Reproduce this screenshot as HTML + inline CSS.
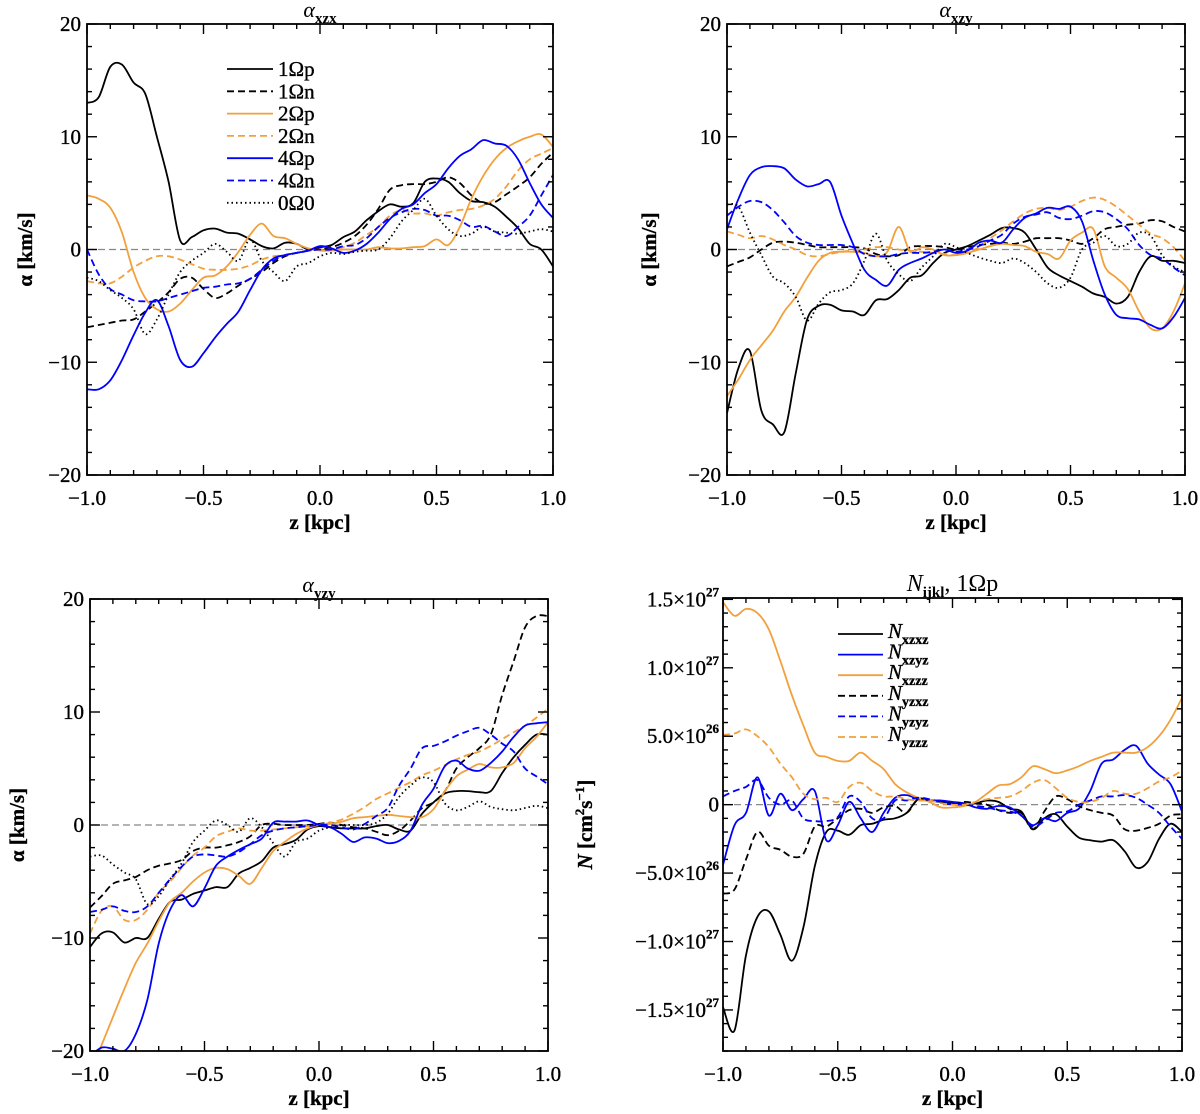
<!DOCTYPE html>
<html><head><meta charset="utf-8">
<style>
body{margin:0;background:#fff;}
svg{display:block;font-family:"Liberation Serif",serif;}
.tick{font-size:21px;fill:#000;stroke:#000;stroke-width:0.35;}
.ttl{font-size:22px;}
</style></head>
<body>
<svg id="fig" width="1200" height="1114" viewBox="0 0 1200 1114"></svg>
<script>
const zGrid=[-1,-0.95,-0.9,-0.85,-0.8,-0.75,-0.7,-0.65,-0.6,-0.55,-0.5,-0.45,-0.4,-0.35,-0.3,-0.25,-0.2,-0.15,-0.1,-0.05,0,0.05,0.1,0.15,0.2,0.25,0.3,0.35,0.4,0.45,0.5,0.55,0.6,0.65,0.7,0.75,0.8,0.85,0.9,0.95,1];
const xTicks=[-1,-0.5,0,0.5,1];
const xTickLabels=["\u22121.0","\u22120.5","0.0","0.5","1.0"];
const alphaTicks=[-20,-10,0,10,20];
const alphaTickLabels=["\u221220","\u221210","0","10","20"];
const nTicks=[-15,-10,-5,0,5,10,15];
const nTickMant=["\u22121.5","\u22121.0","\u22125.0","0","5.0","1.0","1.5"];
const nTickExp=["27","27","26","","26","27","27"];
// panel 1 alpha_xzx
const p1_1p=[13,13.5,16.2,16.4,14.8,13.8,10,6,0.8,1.1,1.7,1.85,1.5,1.4,0.9,0.3,0.1,0.6,0.5,0,0.2,0.4,1.1,1.6,2.6,3.4,4,3.8,4.1,6,6.3,6,5,4.3,4.2,3.8,2.9,1.9,0.5,0,-1.5];
const p1_1n=[-6.9,-6.7,-6.5,-6.3,-6.2,-5.5,-4.7,-3.8,-2.6,-2.5,-3.5,-4.3,-3.9,-3.2,-2.6,-2,-1.2,-0.6,-0.3,-0.1,0,0.2,0.6,1.2,2.2,3.6,5.3,5.7,5.8,5.8,6,6.4,5.9,4.8,4.1,4.2,4.9,5.6,6.4,7.6,8.6];
const p1_2p=[4.8,4.5,3.7,1.5,-2,-4.3,-5.3,-5.5,-4.8,-3.6,-2.5,-2.3,-1.5,-0.2,1.3,2.3,1.2,1,0.5,0.1,-0.1,-0.1,0,0,0,0.2,0.1,0.1,0.2,0.3,0.9,0.4,2,4.5,6.5,8,9,9.6,10,10.2,9.1];
const p1_2n=[-2.8,-3,-3,-2.4,-1.6,-1,-0.6,-0.6,-0.9,-1.3,-1.7,-1.8,-1.8,-1.7,-1.4,-0.9,-0.6,-0.5,-0.3,-0.1,0,0,0.2,0.6,1.3,2,3,3.5,3.2,3.2,3,3.3,3.5,3.6,3.9,4.5,5.6,7,8,8.5,9];
const p1_4p=[-12.4,-12.4,-11.6,-9.8,-7.6,-5.6,-4.5,-6.8,-9.8,-10.4,-9.2,-7.8,-6.6,-5.5,-3.6,-1.8,-0.8,-0.5,-0.3,-0.1,0.3,0.1,-0.3,-0.1,0.5,1.5,2.7,3.6,4,5,5.8,7.2,8.3,8.9,9.7,9.4,9.2,8,5.9,4,2.8];
const p1_4n=[0,-2.2,-3.5,-4,-4.5,-4.6,-4.6,-4.3,-4,-3.7,-3.4,-3.3,-3.1,-3,-2.6,-1.8,-1,-0.5,-0.3,-0.1,0,0,0.3,0.4,1,2,2.8,3.3,3.6,3.5,3,3,2.6,2,2.1,1.6,1.2,2,3,4.8,6.6];
const p1_00=[-2.5,-2.8,-3.6,-4.3,-5.3,-7.5,-6.2,-4,-2,-1,-0.3,0.5,-0.2,-1,0.9,-1,-2,-2.8,-1.5,-1.2,-0.6,-0.3,-0.4,-0.2,-0.1,0,1,2.5,3.5,4.5,3,1.8,1.2,1.4,2,1.6,1.5,1.4,1.6,1.8,1.6];
// panel 2 alpha_xzy
const p2_1p=[-14.5,-10.5,-9,-14.3,-15.5,-16.2,-11,-6.2,-5,-4.9,-5.4,-5.5,-5.8,-4.5,-4.4,-3.6,-2.5,-2.3,-1.2,-0.3,0,0.3,0.8,1.3,1.9,1.9,1.5,0,-1.6,-2.3,-2.8,-3.3,-3.9,-4.2,-4.8,-4.2,-2,-0.6,-1,-1,-1.2];
const p2_1n=[-1.5,-1.1,-0.7,0,0.6,0.7,0.6,0.4,0.2,0.2,0.2,0.2,0.1,-0.4,-0.6,-0.5,0.2,0.3,0.3,0.2,0,0.2,0.4,0.5,0.6,0.5,0.7,1,1,1,0.8,0.5,1,1.8,2,2.2,2.3,2.6,2.5,2,1.6];
const p2_2p=[-13,-11.5,-9.8,-8.5,-7.2,-5.5,-4.2,-2.5,-1,-0.3,-0.2,-0.2,-0.3,-0.6,-0.2,2,-0.2,0.2,0,-0.5,-0.5,-0.3,0,0.3,0.5,0.4,0.3,-0.2,-0.4,-0.8,0.8,1.5,1.8,-1.5,-2.5,-3.5,-5.5,-7,-7,-5.5,-3];
const p2_2n=[1.6,1.3,1,1.2,0.9,0.4,0,-0.5,-0.6,-0.4,-0.2,-0.1,0,0.2,0.2,0,-0.1,-0.2,-0.3,-0.4,-0.5,-0.3,0.2,1,1.7,2.5,3.2,3.6,3.7,3.5,3.8,4.3,4.6,4.4,3.8,3,2.2,1.4,1,0.2,-1];
const p2_4p=[1.8,4.5,6.6,7.3,7.4,7.2,6.2,5.6,5.8,6,3,0.5,-1.8,-2.7,-3.2,-1.8,-1.2,-0.8,-0.3,0,-0.3,-0.1,0.6,0.8,0.6,1.8,2.8,3.2,3.7,3.6,3.8,2.5,-1,-4,-5.8,-6.1,-6.2,-6.7,-7,-6,-4.3];
const p2_4n=[3,3.8,4.3,4.2,3.5,2.4,1.2,0.6,0.4,0.4,0.4,0.2,-0.4,-0.6,-0.6,-0.4,-0.3,-0.3,-0.2,0,-0.2,0,0.3,0.8,1.3,2.3,2.9,3.1,3.3,2.8,2.7,3,3.4,3.3,2.7,1.8,0.4,-0.5,-0.8,-1.6,-2.3];
const p2_00=[4,3.8,1.5,-0.5,-2.4,-3,-4.2,-6.3,-4.8,-3.8,-3.6,-3,-1,1.4,-1,-2.2,-2.8,-1.6,-0.6,0.5,0.2,-0.3,-0.7,-1,-1.2,-0.8,-1.2,-2,-3,-3.4,-2.5,0,0.6,1.2,0.3,0.5,1.5,1.2,-0.5,-1.5,-2];
// panel 3 alpha_yzy
const p3_1p=[-10.8,-9.6,-9.5,-10.4,-10,-10,-8.3,-6.8,-6.6,-6.1,-5.8,-5.5,-5.5,-4.3,-3.8,-3.2,-2,-1.7,-1.3,-0.4,-0.1,-0.2,-0.3,-0.3,-0.3,-0.1,0,-0.4,-0.5,1,2,2.8,3,3,2.9,3,4.6,6,7.1,8,8];
const p3_1n=[-7.3,-6.3,-5.2,-4.9,-4.6,-4,-3.6,-3.4,-3.1,-2.3,-2,-2,-1.8,-1.5,-1,0,0.1,0,0,0,0.1,0.2,0,-0.2,-0.3,-0.6,-0.9,-0.5,0.4,1.5,2,3,5,6,6.8,8,11.5,14.5,17.5,18.5,18.5];
const p3_2p=[-22,-19.5,-17,-14.5,-12.2,-10.5,-8.5,-6.8,-6,-5,-4.2,-3.8,-3.9,-4.5,-5.2,-3.8,-2.3,-1.5,-0.8,-0.3,0,0.1,0.3,0.6,0.7,0.8,0.9,0.8,0.7,0.7,1.4,3,4.3,4.9,5.4,5.1,5.1,5.5,6.8,7.8,9.1];
const p3_2n=[-9.6,-7.6,-7.2,-8.4,-8.4,-7.5,-6,-5,-3.8,-2.7,-2,-1,-0.6,-0.3,-0.5,-0.5,-0.4,-0.3,-0.2,-0.1,0,0.2,0.5,1,1.6,2.3,2.8,3.3,3.8,4.4,4.8,5.3,5.8,6.2,6.5,7,7.6,8.2,8.8,9.5,10.3];
const p3_4p=[-20.5,-19.7,-19.8,-20,-18.5,-15.5,-10.5,-7.5,-6.2,-7.2,-5.6,-3.6,-2.8,-2.2,-1.7,-1.2,0.2,0.3,0.3,0.4,0,-0.2,-0.8,-1.5,-1.1,-1.2,-1.6,-1.4,-0.5,1.8,3.2,5.2,5.7,5,4.8,5.5,6.5,7.8,8.8,9,9.1];
const p3_4n=[-7.7,-7.5,-7.2,-7.6,-7.7,-7.2,-6,-4.8,-3.7,-2.8,-2.6,-2.7,-2.8,-2.4,-1.7,-0.9,-0.5,-0.3,-0.2,-0.1,0,0,-0.2,-0.4,0.1,0.8,1.5,3.5,5,6.8,7,7.4,7.9,8.3,8.6,8,7.2,6.5,5,4.3,3.6];
const p3_00=[-2.8,-2.7,-3.5,-4.2,-4.8,-7,-6.3,-4.8,-3.4,-1.5,-0.5,0.4,0,-0.6,0.6,-0.2,-1.6,-2.8,-1.5,-1.2,-0.5,-0.2,0,0,0,0.2,1,2.5,3.5,4.2,3.8,1.9,1.3,1.6,2.1,1.6,1.4,1.3,1.5,1.7,1.5];
// panel 4 N_ijkl (units of 1e26 cm^2/s)
const n_xzxz=[-14.8,-16.5,-11,-8.2,-7.8,-9.5,-11.4,-9,-4.5,-2,-1.9,-2.2,-1.5,-1.4,-1.1,-1,-0.6,0.4,0.3,0.2,0.1,0,0.1,0.3,0.2,-0.3,-0.5,-1.8,-1,-0.7,-1.6,-2.4,-2.6,-2.7,-2.6,-3.4,-4.6,-4.2,-2.5,-1.4,-2];
const n_xzyz=[-4.4,-1.5,-0.6,2,-0.8,0.8,-0.4,0.4,1,-2.6,-1.5,0.2,-1,-2,-0.6,0.5,0.7,0.4,0.3,0.3,0.2,0.1,-0.2,-0.3,-0.1,-0.2,-0.8,-1.5,-1,-1.2,-0.6,-0.3,1,3,3.3,4,4.3,3,2.2,1.5,-0.5];
const n_xzzz=[14.8,13.8,14.3,14,12.8,10.5,8,5.8,3.8,3.5,3.2,3.2,3.8,3.2,2.6,1.5,0.9,0.5,0.2,-0.2,-0.2,-0.1,0.2,0.8,1.4,1.5,2,2.8,2.6,2.3,2.5,2.8,3.2,3.5,3.8,3.8,3.8,4.2,5,6.2,7.8];
const n_yzxz=[-6.5,-6.2,-4,-2,-3,-3.3,-3.8,-3.6,-1.6,-1.6,-1,-0.4,-0.3,-0.6,-0.2,-0.1,-0.6,0.4,0.3,0.2,0,0.2,0.1,0,-0.4,-0.6,-0.6,-1.8,-0.5,0.6,0.4,-0.1,-0.4,-0.6,-0.8,-1.8,-1.9,-1.7,-1.4,-0.8,-0.7];
const n_yzyz=[0.6,1,1.3,1.8,0.5,0,0.3,-1,-1.2,-1.2,-0.9,0.6,0.2,-1,-1,0.3,0.3,0.5,0.4,0.2,0,0,-0.1,-0.2,-0.4,-0.5,-0.8,-1.6,-1.2,-0.6,-0.5,0,0.3,0.6,0.6,0.7,0.5,0,-0.6,-1.6,-2.5];
const n_yzzz=[5.1,5.2,5.5,5,4.2,3,2,0.8,0.4,0.5,0.2,1.3,1.6,1,0.6,0.6,0.4,0.3,0.3,0.1,0,0,0.2,0.4,0.5,0.6,1,1.6,1.8,1.2,0.5,0.2,0.2,0.5,1,0.8,0.8,1.2,1.7,2,2.5];

const NS="http://www.w3.org/2000/svg";
const svg=document.getElementById('fig');
const ORANGE="#f2a03c", BLUE="#0000ff";
function mk(tag,attrs,parent){const e=document.createElementNS(NS,tag);for(const k in attrs)e.setAttribute(k,attrs[k]);(parent||svg).appendChild(e);return e;}
const STY={solid:"",dash:"7,4",dot:"1.5,3"};
function catmull(pts){let d="M"+pts[0][0].toFixed(1)+","+pts[0][1].toFixed(1);
 for(let i=0;i<pts.length-1;i++){const p0=pts[Math.max(0,i-1)],p1=pts[i],p2=pts[i+1],p3=pts[Math.min(pts.length-1,i+2)];
  const c1x=p1[0]+(p2[0]-p0[0])/6,c1y=p1[1]+(p2[1]-p0[1])/6,c2x=p2[0]-(p3[0]-p1[0])/6,c2y=p2[1]-(p3[1]-p1[1])/6;
  d+="C"+c1x.toFixed(1)+","+c1y.toFixed(1)+" "+c2x.toFixed(1)+","+c2y.toFixed(1)+" "+p2[0].toFixed(1)+","+p2[1].toFixed(1);}
 return d;}

function panel(cfg){
 const g=mk('g',{});
 
 
 const L=cfg.x0,R=cfg.x1,T=cfg.y0,B=cfg.y1;
 const sx=v=>L+(v+1)/2*(R-L);
 const sy=v=>B-(v-cfg.ymin)/(cfg.ymax-cfg.ymin)*(B-T);
 const cid='clip-'+cfg.name;
 const cp=mk('clipPath',{id:cid},g);mk('rect',{x:L,y:T,width:R-L,height:B-T},cp);
 const zl=mk('line',{x1:L,x2:R,y1:sy(0),y2:sy(0),stroke:'#888','stroke-width':1.2,'stroke-dasharray':'7,4'},g);
 
 
 const sg=mk('g',{'clip-path':'url(#'+cid+')'},g);
 cfg.series.forEach(s=>{
  const pts=zGrid.map((z,i)=>[sx(z),sy(s.data[i])]);
  const p=mk('path',{d:catmull(pts),fill:'none',stroke:s.color,'stroke-width':1.8,'stroke-dasharray':STY[s.style]},sg);
  
  
 });
 const fr=mk('rect',{x:L,y:T,width:R-L,height:B-T,fill:'none',stroke:'#000','stroke-width':1.8},g);
 
 
 for(let k=-10;k<=10;k++){const v=k/10,x=sx(v),len=(k%5===0)?10:5;
  mk('line',{x1:x,x2:x,y1:B,y2:B-len,stroke:'#000','stroke-width':1.4},g);
  mk('line',{x1:x,x2:x,y1:T,y2:T+len,stroke:'#000','stroke-width':1.4},g);}
 xTicks.forEach((v,i)=>{const t=mk('text',{x:sx(v),y:B+30,'text-anchor':'middle',class:'tick'},g);t.textContent=xTickLabels[i];
  
  });
 const xt=mk('text',{x:(L+R)/2,y:B+54,'text-anchor':'middle',class:'tick','font-weight':'bold'},g);xt.textContent='z [kpc]';
 
 
 for(let v=cfg.ymin_t;v<=cfg.ymax_t+1e-9;v+=cfg.minor){const y=sy(v);if(y<T-0.5||y>B+0.5)continue;
  const maj=Math.abs(Math.round(v/cfg.major)*cfg.major-v)<1e-6;const len=maj?10:5;
  mk('line',{x1:L,x2:L+len,y1:y,y2:y,stroke:'#000','stroke-width':1.4},g);
  mk('line',{x1:R,x2:R-len,y1:y,y2:y,stroke:'#000','stroke-width':1.4},g);}
 cfg.yLabels(g,sy,L);
 const yt=mk('text',{transform:'translate('+cfg.ytx+','+((T+B)/2)+') rotate(-90)','text-anchor':'middle',class:'tick','font-weight':'bold'},g);
 yt.innerHTML=cfg.ytitle;
 
 
 const tt=mk('text',{x:(L+R)/2,y:T-7,'text-anchor':'middle',class:cfg.ttlClass||'ttl'},g);tt.innerHTML=cfg.title;
 
 
 return {g,sx,sy};
}
function alphaLabels(g,sy,L){alphaTicks.forEach((v,i)=>{const t=mk('text',{x:L-6,y:sy(v)+7,'text-anchor':'end',class:'tick'},g);t.textContent=alphaTickLabels[i];
 
 });}
function nLabels(g,sy,L){nTicks.forEach((v,i)=>{const t=mk('text',{x:L-4,y:sy(v)+7,'text-anchor':'end',class:'tick'},g);
 t.innerHTML=nTickExp[i]?nTickMant[i]+'\u00d710<tspan dy="-10" font-size="13" font-weight="bold">'+nTickExp[i]+'</tspan>':nTickMant[i];
 
 });}

const ser=(a,b,c,d,e,f,h)=>[
 {id:'1-omega-p',data:a,color:'#000',style:'solid'},{id:'1-omega-n',data:b,color:'#000',style:'dash'},
 {id:'2-omega-p',data:c,color:ORANGE,style:'solid'},{id:'2-omega-n',data:d,color:ORANGE,style:'dash'},
 {id:'4-omega-p',data:e,color:BLUE,style:'solid'},{id:'4-omega-n',data:f,color:BLUE,style:'dash'},
 {id:'0-omega-0',data:h,color:'#000',style:'dot'}];
const aT='\u03b1 [km/s]';
const base={ymin:-20,ymax:20,ymin_t:-20,ymax_t:20,minor:2,major:10,yLabels:alphaLabels,ytitle:aT};
panel(Object.assign({},base,{name:'panel-alpha-xzx',x0:87,x1:553,y0:24,y1:475,ytx:32,
 title:'<tspan font-style="italic">\u03b1</tspan><tspan dy="6" font-size="15" font-weight="bold">xzx</tspan>',
 series:ser(p1_1p,p1_1n,p1_2p,p1_2n,p1_4p,p1_4n,p1_00)}));
panel(Object.assign({},base,{name:'panel-alpha-xzy',x0:727,x1:1185,y0:24,y1:475,ytx:656,
 title:'<tspan font-style="italic">\u03b1</tspan><tspan dy="6" font-size="15" font-weight="bold">xzy</tspan>',
 series:ser(p2_1p,p2_1n,p2_2p,p2_2n,p2_4p,p2_4n,p2_00)}));
panel(Object.assign({},base,{name:'panel-alpha-yzy',x0:90,x1:548,y0:599,y1:1051,ytx:24,
 title:'<tspan font-style="italic">\u03b1</tspan><tspan dy="6" font-size="15" font-weight="bold">yzy</tspan>',
 series:ser(p3_1p,p3_1n,p3_2p,p3_2n,p3_4p,p3_4n,p3_00)}));
panel({name:'panel-n-ijkl',x0:723,x1:1182,y0:598,y1:1051,ymin:-18,ymax:15.1,ymin_t:-18,ymax_t:15,minor:1,major:5,yLabels:nLabels,ytx:592,
 ytitle:'<tspan font-style="italic">N</tspan> [cm<tspan dy="-8" font-size="13">2</tspan><tspan dy="8">s</tspan><tspan dy="-8" font-size="13">\u22121</tspan><tspan dy="8">]</tspan>',
 ttlClass:'ttl', title:'<tspan font-style="italic" font-size="24">N</tspan><tspan dy="6" font-size="15" font-weight="bold">ijkl</tspan><tspan dy="-6" font-size="24">,  1\u03a9p</tspan>',
 series:[{id:'n-xzxz',data:n_xzxz,color:'#000',style:'solid'},{id:'n-xzyz',data:n_xzyz,color:BLUE,style:'solid'},
  {id:'n-xzzz',data:n_xzzz,color:ORANGE,style:'solid'},{id:'n-yzxz',data:n_yzxz,color:'#000',style:'dash'},
  {id:'n-yzyz',data:n_yzyz,color:BLUE,style:'dash'},{id:'n-yzzz',data:n_yzzz,color:ORANGE,style:'dash'}]});

const leg1=[['1\u03a9p','#000','solid'],['1\u03a9n','#000','dash'],['2\u03a9p',ORANGE,'solid'],['2\u03a9n',ORANGE,'dash'],['4\u03a9p',BLUE,'solid'],['4\u03a9n',BLUE,'dash'],['0\u03a90','#000','dot']];
const lg1=mk('g',{});


leg1.forEach((e,i)=>{const y=69+i*22.3;
 const l=mk('line',{x1:227,x2:273,y1:y,y2:y,stroke:e[1],'stroke-width':1.8,'stroke-dasharray':STY[e[2]]},lg1);
 
 
 const t=mk('text',{x:278,y:y+7,class:'tick'},lg1);t.textContent=e[0];
 
 });
const leg4=[['xzxz','#000','solid'],['xzyz',BLUE,'solid'],['xzzz',ORANGE,'solid'],['yzxz','#000','dash'],['yzyz',BLUE,'dash'],['yzzz',ORANGE,'dash']];
const lg4=mk('g',{});


leg4.forEach((e,i)=>{const y=634+i*20.6;
 const l=mk('line',{x1:838,x2:883,y1:y,y2:y,stroke:e[1],'stroke-width':1.8,'stroke-dasharray':STY[e[2]]},lg4);
 
 
 const t=mk('text',{x:888,y:y+4,class:'tick'},lg4);
 t.innerHTML='<tspan font-style="italic">N</tspan><tspan dy="6" font-size="14" font-weight="bold">'+e[0]+'</tspan>';
 
 });
</script>
</body></html>
